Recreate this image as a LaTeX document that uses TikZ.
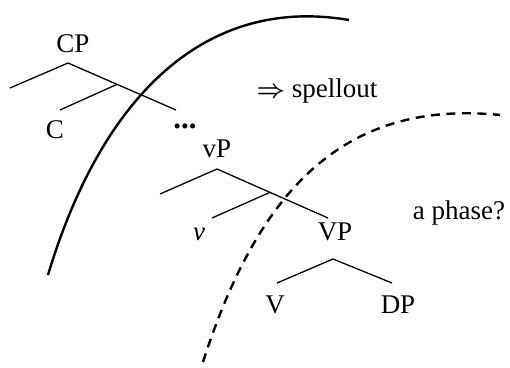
\documentclass[tikz,border=0pt]{standalone}
\usepackage{fontspec}
\setmainfont{Liberation Serif}
\usetikzlibrary{calc}
\begin{document}
\begin{tikzpicture}[x=1pt,y=-1pt,
  lbl/.style={anchor=base,inner sep=0pt,font=\fontsize{27}{32}\selectfont},
  branch/.style={line width=1.3pt},
  border/.style={line width=2.4pt},
  bordash/.style={line width=2.4pt,dash pattern=on 9pt off 6.5pt}]
\useasboundingbox (0,0) rectangle (510,367);
% labels
\node[lbl] (CP) at (73,52) {CP};
\node[lbl] (C) at (55,138) {C};
\node[lbl,font=\fontsize{31}{36}\selectfont\bfseries] (dots) at (185,128) {...};
\node[lbl] (vP) at (217,157) {vP};
\node[lbl] (v) at (199,240) {\textit{v}};
\node[lbl] (VP) at (335,240) {VP};
\node[lbl] (V) at (275,313) {V};
\node[lbl] (DP) at (398,313) {DP};
\node[lbl] (spell) at (317,97) {{\boldmath$\Rightarrow$} spellout};
\node[lbl] (phase) at (459,219) {a phase?};
% tree coordinates
\coordinate (cpTop) at (68,63);
\coordinate (cpL) at (10,88);
\coordinate (cpR) at (176,110);
\coordinate (cEnd) at (60,110);
\coordinate (vpTop) at (217,169);
\coordinate (vpL) at (160,194);
\coordinate (vpR) at (328,218);
\coordinate (vEnd) at (212,218);
\coordinate (VPTop) at (333,259);
\coordinate (VPL) at (277,283);
\coordinate (VPR) at (392,283);
% branches
\draw[branch] (cpL) -- (cpTop) -- (cpR);
\draw[branch] ($(cpTop)!0.454!(cpR)$) -- (cEnd);
\draw[branch] (vpL) -- (vpTop) -- (vpR);
\draw[branch] ($(vpTop)!0.477!(vpR)$) -- (vEnd);
\draw[branch] (VPL) -- (VPTop) -- (VPR);
% phase boundaries
\draw[border] (48,275) .. controls (99,105) and (199,-5.5) .. (349,20);
\draw[bordash] (203,362) .. controls (260.6,182) and (350,100) .. (500,115);
\end{tikzpicture}
\end{document}
